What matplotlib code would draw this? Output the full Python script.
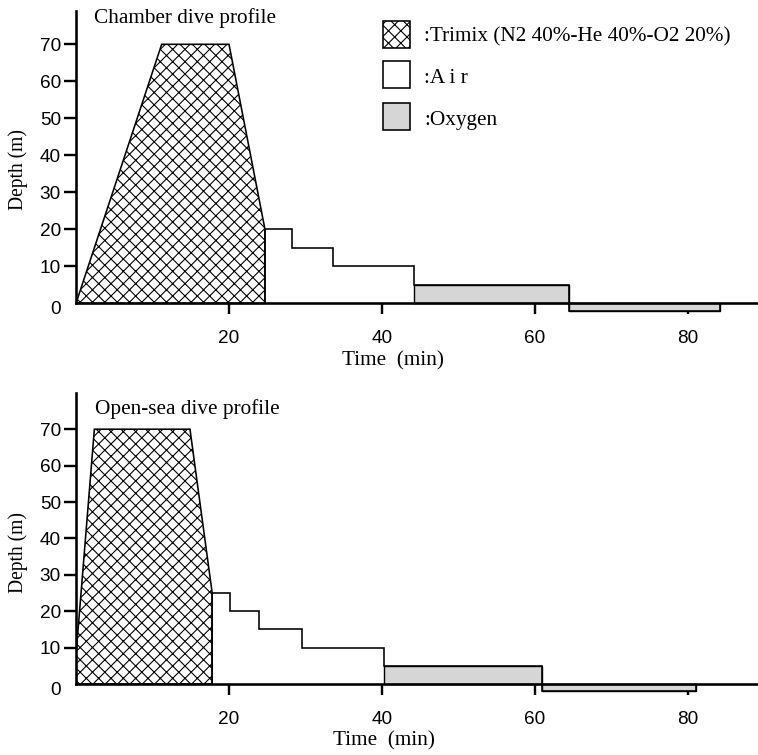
import matplotlib
matplotlib.use("Agg")
import matplotlib.pyplot as plt
import matplotlib.transforms as mtransforms
from matplotlib.patches import Rectangle

# ---------------- data ----------------
# Chamber dive
ch_trimix_time = [0, 11.2, 20.0, 24.7, 24.7]
ch_trimix_depth = [0, 70, 70, 20, 0]
ch_stop_edges = [24.7, 28.2, 33.6, 44.2, 64.4, 84.2]
ch_stop_depth = [20, 15, 10, 5, -2]
ch_stop_gas = ["Air", "Air", "Air", "Oxygen", "Oxygen"]

# Open-sea dive
os_trimix_time = [0, 0, 2.4, 14.9, 17.8, 17.8]
os_trimix_depth = [0, 8, 70, 70, 25, 0]
os_stop_edges = [17.8, 20.1, 23.9, 29.6, 40.3, 60.9, 81.0]
os_stop_depth = [25, 20, 15, 10, 5, -2]
os_stop_gas = ["Air", "Air", "Air", "Air", "Oxygen", "Oxygen"]

y_ticks = [0, 10, 20, 30, 40, 50, 60, 70]
x_ticks = [20, 40, 60, 80]
legend_labels = [":Trimix (N2 40%-He 40%-O2 20%)", ":A i r", ":Oxygen"]

# ---------------- style ----------------
DPI = 148
W, H = 758, 755
def pt(px):
    return px * 72.0 / DPI

plt.rcParams["hatch.linewidth"] = pt(1.1)
SERIF = ["Liberation Serif", "DejaVu Serif"]
SANS = ["Liberation Sans", "DejaVu Sans"]
O2_COLOR = "#d6d6d6"
HATCH = "xxxx"

fig = plt.figure(figsize=(W / DPI, H / DPI), dpi=DPI)
fig.patch.set_facecolor("white")

def fx(px):
    return px / W

def fy(py):
    return 1 - py / H

def make_axes(left_px, right_px, zero_py, px_per_m, ymin, ymax):
    bottom_py = zero_py - ymin * px_per_m
    top_py = zero_py - ymax * px_per_m
    ax = fig.add_axes([fx(left_px), fy(bottom_py), fx(right_px - left_px),
                       (bottom_py - top_py) / H])
    ax.set_xlim(0, (right_px - left_px) / 7.65)
    ax.set_ylim(ymin, ymax)
    ax.patch.set_alpha(0)
    for s in ["top", "right"]:
        ax.spines[s].set_visible(False)
    ax.spines["bottom"].set_position(("data", 0))
    ax.spines["left"].set_bounds(0, ymax)
    for s in ["bottom", "left"]:
        ax.spines[s].set_linewidth(pt(2.6))
        ax.spines[s].set_zorder(5)
    ax.set_yticks(y_ticks)
    ax.set_xticks(x_ticks)
    ax.tick_params(axis="y", direction="out", length=pt(12), width=pt(2.4), pad=pt(3),
                   labelsize=pt(19))
    ax.tick_params(axis="x", direction="out", length=pt(11), width=pt(2.4), pad=pt(16),
                   labelsize=pt(19))
    for lab in ax.get_xticklabels() + ax.get_yticklabels():
        lab.set_family(SANS)
    t0 = ax.yaxis.get_major_ticks()[0]
    t0.tick1line.set_visible(False)
    t0.label1.set_transform(t0.label1.get_transform() +
                            mtransforms.ScaledTranslation(0, -4.0 / DPI, fig.dpi_scale_trans))
    return ax

def draw_profile(ax, tt, td, edges, depths, gases):
    ax.fill(tt, td, facecolor="white", edgecolor="black", hatch=HATCH,
            linewidth=pt(1.6), zorder=2)
    for i, g in enumerate(gases):
        if g == "Oxygen":
            ax.bar(edges[i], depths[i], width=edges[i + 1] - edges[i], align="edge",
                   facecolor=O2_COLOR, edgecolor="black", linewidth=pt(1.4), zorder=2)
    ax.stairs(depths, edges, baseline=0, fill=False, color="black",
              linewidth=pt(1.6), zorder=3)

ax1 = make_axes(76, 758, 303.3, 3.70, -8, 79)
draw_profile(ax1, ch_trimix_time, ch_trimix_depth, ch_stop_edges, ch_stop_depth, ch_stop_gas)
ax2 = make_axes(76, 758, 684.0, 3.64, -8, 80)
draw_profile(ax2, os_trimix_time, os_trimix_depth, os_stop_edges, os_stop_depth, os_stop_gas)

# texts
fs = pt(21.2)
fig.text(fx(94), fy(23), "Chamber dive profile", family=SERIF, fontsize=fs, va="baseline")
fig.text(fx(95), fy(414), "Open-sea dive profile", family=SERIF, fontsize=fs, va="baseline")
fig.text(fx(393), fy(361), "Time  (min)", family=SERIF, fontsize=fs, ha="center", va="center")
fig.text(fx(384), fy(741), "Time  (min)", family=SERIF, fontsize=fs, ha="center", va="center")
fig.text(fx(18), fy(169), "Depth (m)", family=SERIF, fontsize=pt(19.5), ha="center",
         va="center", rotation=90)
fig.text(fx(18), fy(552), "Depth (m)", family=SERIF, fontsize=pt(19.5), ha="center",
         va="center", rotation=90)

# legend (manual)
box_tops = [20.7, 61.0, 103.0]
text_base = [41.5, 83.0, 124.5]
styles = [dict(facecolor="white", hatch=HATCH), dict(facecolor="white"),
          dict(facecolor=O2_COLOR)]
for top, base, lab, st in zip(box_tops, text_base, legend_labels, styles):
    r = Rectangle((fx(383), fy(top + 27.5)), fx(27), 27.5 / H, transform=fig.transFigure,
                  edgecolor="black", linewidth=pt(1.6), **st)
    fig.patches.append(r)
    fig.text(fx(424), fy(base), lab, family=SERIF, fontsize=fs, va="baseline")

fig.savefig("out.png", dpi=DPI, facecolor="white")
